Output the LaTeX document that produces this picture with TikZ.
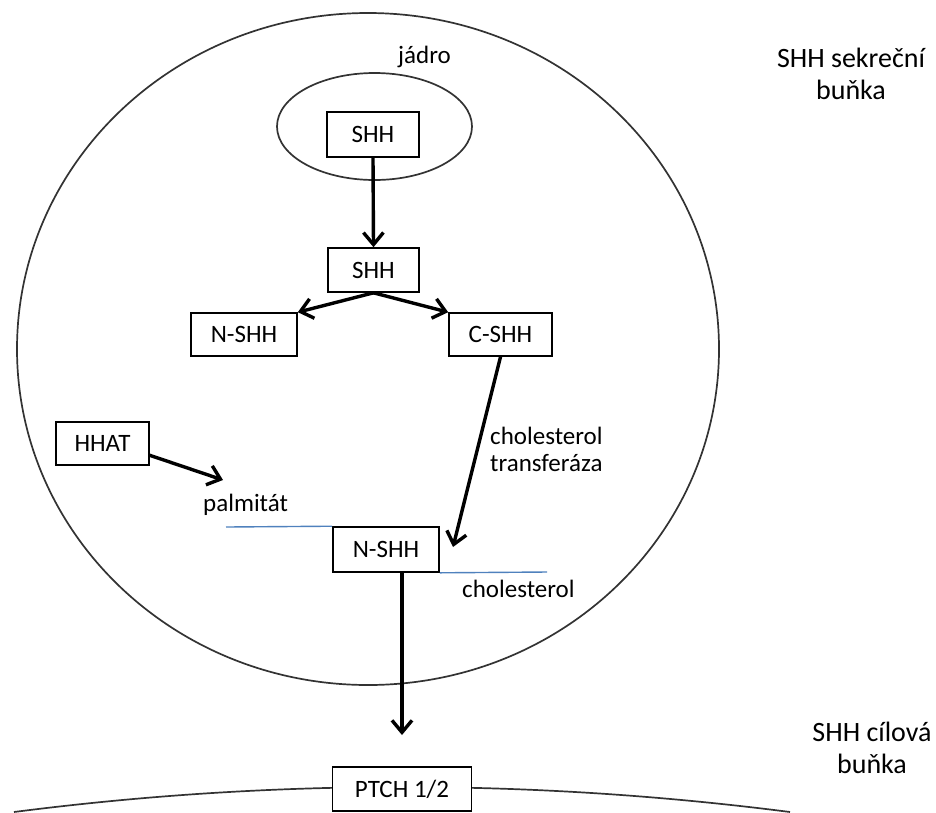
\documentclass[tikz,border=0pt]{standalone}
\usepackage{fontspec}
\setmainfont{Carlito}
\usetikzlibrary{arrows.meta}
\definecolor{lipidblue}{RGB}{79,129,189}
\newcommand\diagtext{\fontsize{25}{27}\selectfont}
\newcommand\sidetext{\fontsize{28}{32}\selectfont}
\begin{document}
\begin{tikzpicture}[x=1pt,y=-1pt,
  cellline/.style={draw=black!80, line width=1.7pt},
  box/.style={draw=black, line width=1.6pt, fill=white, inner sep=0pt, font=\diagtext},
  flow/.style={draw=black, line width=3.4pt, line cap=round,
    -{Straight Barb[length=12pt,width=20pt,line width=3.4pt]}},
  membrane/.style={draw=lipidblue, line width=1.4pt},
  label/.style={inner sep=0pt, font=\diagtext},
  side/.style={inner sep=0pt, font=\sidetext, align=center},
]
\useasboundingbox (0,0) rectangle (936,812);

% secreting cell and its nucleus
\draw[cellline] (368,349) ellipse [x radius=351pt, y radius=336pt];
\draw[cellline] (374.5,126.5) ellipse [x radius=97.5pt, y radius=53.5pt];
% membrane of the target cell
\draw[cellline] (14,812) .. controls (272.7,778.7) and (531.3,778.7) .. (790,812);

% proteins
\node[box, minimum width=92pt, minimum height=45pt] (shhA) at (373,134.5) {SHH};
\node[box, minimum width=91pt, minimum height=44pt] (shhB) at (373.5,270) {SHH};
\node[box, minimum width=106pt, minimum height=43pt] (nshhA) at (244,334.5) {N-SHH};
\node[box, minimum width=103pt, minimum height=43pt] (cshh) at (500.5,334.5) {C-SHH};
\node[box, minimum width=93pt, minimum height=43pt] (hhat) at (102.5,443.5) {HHAT};
\node[box, minimum width=106pt, minimum height=45pt] (nshhB) at (386,549.5) {N-SHH};
\node[box, minimum width=139pt, minimum height=44pt] (ptch) at (402,789) {PTCH 1/2};

% text labels
\node[label, anchor=base] (nucleus) at (424.5,63) {jádro};
\node[label, anchor=base west] (palm) at (203,511) {palmitát};
\node[label, anchor=base west] (chol) at (462,597) {cholesterol};
\node[label, anchor=north west, align=left] (transf) at (490,427) {cholesterol\\transferáza};
\node[side, anchor=north] (secreting) at (851,48) {SHH sekreční\\buňka};
\node[side, anchor=north] (target) at (872,722) {SHH cílová\\buňka};

% lipid anchors
\coordinate (palmEnd) at (226,527);
\coordinate (cholEnd) at (547,572);
\draw[membrane] (palmEnd) -- (nshhB.north west);
\draw[membrane] (nshhB.south east) -- (cholEnd);

% processing steps
\coordinate (palmTip) at (223,480);
\coordinate (cholTip) at (453,547);
\coordinate (ptchTip) at (402,735);
\draw[flow] (shhA.south) -- (shhB.north);
\draw[flow] (shhB.south) -- (nshhA.north east);
\draw[flow] (shhB.south) -- (cshh.north west);
\draw[flow] (hhat.-14) -- (palmTip);
\draw[flow] (cshh.south) -- (cholTip);
\draw[flow] (nshhB.south -| ptchTip) -- (ptchTip);
\end{tikzpicture}
\end{document}
